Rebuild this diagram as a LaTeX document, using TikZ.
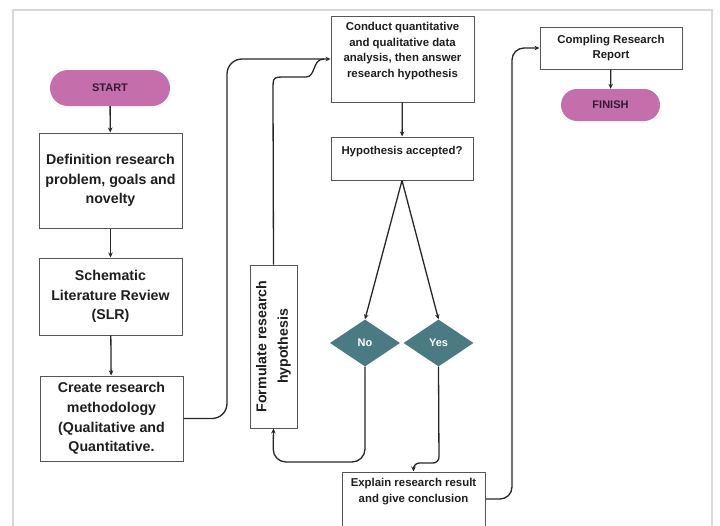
\documentclass[tikz,border=0pt]{standalone}
\usepackage{fontspec}
\setmainfont{Liberation Sans}
\usetikzlibrary{arrows.meta,shapes.geometric}
\definecolor{pinkfill}{HTML}{C46EAB}
\definecolor{tealfill}{HTML}{4B7B82}
\definecolor{boxline}{HTML}{555555}
\definecolor{framecol}{HTML}{D9D9D9}
\definecolor{txtcol}{HTML}{1E1E1E}
\definecolor{startxt}{HTML}{2E1C30}
\tikzset{
  box/.style={draw=boxline, line width=1pt, fill=white, inner sep=0pt, align=center, text=txtcol},
  bigtxt/.style={font=\bfseries\fontsize{14.2}{19.6}\selectfont},
  smalltxt/.style={font=\bfseries\fontsize{11.4}{15.7}\selectfont},
  term/.style={rectangle, rounded corners=18pt, fill=pinkfill, draw=none, text=startxt, font=\bfseries\fontsize{11}{13}\selectfont},
  decision/.style={diamond, fill=tealfill, draw=none, inner sep=0pt, minimum width=70pt, minimum height=47pt, text=white, font=\bfseries\fontsize{11}{13}\selectfont},
  conn/.style={draw=black!85, line width=1.3pt, -{Stealth[length=5pt,width=4.5pt]}},
  plain/.style={draw=black!85, line width=1.3pt},
  txtnode/.style={text=txtcol, align=center, inner sep=0pt}
}
\begin{document}
\begin{tikzpicture}[x=1pt,y=-1pt]
\useasboundingbox (0,0) rectangle (720,525);
\clip (0,0) rectangle (720,525);
% frame
\draw[framecol, line width=1.5pt] (13,530) -- (13,10) -- (712,10) -- (712,530);

% left column
\node[term, minimum width=120pt, minimum height=36pt] (start) at (110,88) {START};
\node[box, bigtxt, minimum width=143pt, minimum height=95pt] (def) at (110.5,180.5) {Definition research\\problem, goals and\\novelty};
\node[box, bigtxt, minimum width=143pt, minimum height=77pt] (slr) at (110.5,296.5) {Schematic\\Literature Review\\(SLR)};
\node[box, bigtxt, minimum width=143pt, minimum height=85pt] (method) at (111.5,418.5) {Create research\\methodology\\(Qualitative and\\Quantitative.};

% formulate
\node[box, minimum width=47pt, minimum height=163pt] (form) at (273.5,346.5) {};
\node[txtnode, rotate=90, font=\bfseries\fontsize{14.2}{21.5}\selectfont] (formtxt) at (form.center) {Formulate research\\hypothesis};

% middle column
\node[box, minimum width=143pt, minimum height=86pt] (conduct) at (402.5,59) {};
\node[txtnode, smalltxt] (conducttxt) at (402.5,51) {Conduct quantitative\\and qualitative data\\analysis, then answer\\research hypothesis};
\node[box, minimum width=142pt, minimum height=43pt] (hyp) at (402,158.5) {};
\node[txtnode, smalltxt] (hyptxt) at (402,152) {Hypothesis accepted?};
\node[decision] (no) at (365,343) {No};
\node[decision] (yes) at (438.5,343) {Yes};
\node[box, minimum width=143pt, minimum height=54pt] (explain) at (413.5,499) {};
\node[txtnode, smalltxt] (explaintxt) at (413.5,491.5) {Explain research result\\and give conclusion};

% right column
\node[box, smalltxt, minimum width=142pt, minimum height=42pt] (comp) at (611,48) {Compling Research\\Report};
\node[term, minimum width=99pt, minimum height=32pt, rounded corners=16pt] (finish) at (610.5,105) {FINISH};

% connectors
\draw[conn] (start) -- (def);
\draw[conn] (def) -- (slr);
\draw[conn] (slr) -- (method);
\draw[conn, rounded corners=15pt] (method.east) -| (227,59) -- (conduct.west);
\draw[plain] (form.north) -- (273,90) .. controls (273,77) .. (286,77) -- (306,77) .. controls (316,77) and (312,59) .. (324,59);
\draw[conn] (conduct) -- (hyp);
\draw[conn] (hyp.south) -- (no.north);
\draw[conn] (hyp.south) -- (yes.north);
\draw[conn, rounded corners=13pt] (no.south) |- (273,462) -- (form.south);
\draw[conn, rounded corners=6pt] (yes.south) -- (439,463) -- (413.5,463) -- (explain.north);
\draw[conn, rounded corners=12pt] (explain.east) -| (512,48) -- (comp.west);
\draw[conn] (comp) -- (finish);
\end{tikzpicture}
\end{document}
